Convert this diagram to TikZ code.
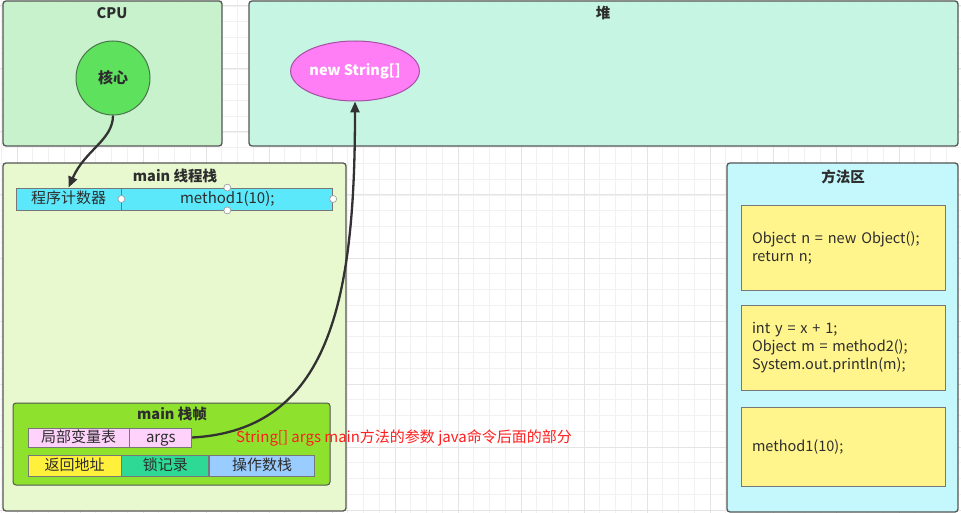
\documentclass[tikz,border=0pt]{standalone}
\usepackage{fontspec}
\setmainfont{Noto Sans CJK SC}
\usepackage{xcolor}
\usetikzlibrary{positioning,shapes.geometric,arrows.meta}
\definecolor{edgegray}{RGB}{85,85,85}
\definecolor{titlegray}{RGB}{45,45,45}
\definecolor{linkgray}{RGB}{50,50,50}
\definecolor{gridminor}{RGB}{241,241,241}
\definecolor{gridmajor}{RGB}{228,228,228}
\definecolor{cpugreen}{RGB}{199,242,203}
\definecolor{heapgreen}{RGB}{198,245,228}
\definecolor{coregreen}{RGB}{94,226,94}
\definecolor{coreedge}{RGB}{75,115,75}
\definecolor{strpink}{RGB}{255,125,245}
\definecolor{stredge}{RGB}{165,80,165}
\definecolor{stackgreen}{RGB}{232,248,207}
\definecolor{pccyan}{RGB}{90,232,250}
\definecolor{framegreen}{RGB}{142,226,46}
\definecolor{localpink}{RGB}{255,210,252}
\definecolor{retyellow}{RGB}{255,240,60}
\definecolor{lockteal}{RGB}{46,217,150}
\definecolor{opsblue}{RGB}{153,204,255}
\definecolor{methodcyan}{RGB}{197,248,252}
\definecolor{codeyellow}{RGB}{255,245,140}
\definecolor{annored}{RGB}{255,30,30}
\tikzset{
  region/.style={draw=edgegray, line width=1.3pt, rounded corners=3pt, inner sep=0pt},
  title/.style={font=\bfseries\fontsize{14.5}{16}\selectfont, text=titlegray},
  cell/.style={draw=edgegray!80, line width=0.8pt, inner sep=0pt, text height=0.98em, text depth=0.06em, font=\fontsize{15}{17}\selectfont, text=titlegray},
  codebox/.style={draw=edgegray!80, line width=0.8pt, fill=codeyellow, minimum width=204pt, text width=182pt, inner xsep=11pt, align=left, font=\fontsize{14.5}{18}\selectfont, text=titlegray},
  handle/.style={circle, draw=gray!80, fill=white, line width=0.6pt, inner sep=0pt, minimum size=7pt},
  link/.style={draw=linkgray, line width=2.3pt, -{Triangle[length=11pt,width=9pt]}},
}
\begin{document}
\begin{tikzpicture}[x=1pt,y=-1pt]
\useasboundingbox (0,0) rectangle (961,513);
\fill[white] (0,0) rectangle (961,513);
\foreach \i in {0,...,61} \draw[gridminor, line width=0.8pt] ({1.25+15.75*\i},0) -- ({1.25+15.75*\i},513);
\foreach \j in {0,...,32} \draw[gridminor, line width=0.8pt] (0,{6+15.75*\j}) -- (961,{6+15.75*\j});
\foreach \i in {0,...,15} \draw[gridmajor, line width=1pt] ({17+63*\i},0) -- ({17+63*\i},513);
\foreach \j in {0,...,8} \draw[gridmajor, line width=1pt] (0,{6+63*\j}) -- (961,{6+63*\j});

\node[region, fill=cpugreen, minimum width=219pt, minimum height=145pt] (cpu) at (112.5,73.5) {};
\node[title] (cputitle) at (112,13) {CPU};
\node[circle, draw=coreedge, fill=coregreen, line width=1pt, minimum size=74pt, font=\bfseries\fontsize{15}{17}\selectfont, text=titlegray] (core) at (113,78) {核心};

\node[region, fill=heapgreen, minimum width=709pt, minimum height=145pt] (heap) at (603.5,73.5) {};
\node[title] (heaptitle) at (603,13) {堆};
\node[ellipse, draw=stredge, fill=strpink, line width=1pt, minimum width=124pt, minimum height=60pt, inner sep=0pt, text=white, font=\bfseries\fontsize{14.5}{16}\selectfont] (str) at (355,71) {new String[]};

\node[region, fill=stackgreen, minimum width=343pt, minimum height=348pt] (stack) at (174.5,337) {};
\node[title] (stacktitle) at (175,176) {main 线程栈};
\node[cell, fill=pccyan, minimum width=105pt, minimum height=22pt] (pcname) at (68.5,199) {程序计数器};
\node[cell, fill=pccyan, minimum width=211pt, minimum height=22pt, right=0pt of pcname] (pcval) {method1(10);};
\node[handle] (h1) at (pcval.west) {};
\node[handle] (h2) at (pcval.north) {};
\node[handle] (h3) at (pcval.south) {};
\node[handle] (h4) at (pcval.east) {};

\node[region, fill=framegreen, line width=1pt, minimum width=317pt, minimum height=82pt] (frame) at (171.5,444) {};
\node[title] (frametitle) at (172,414) {main 栈帧};
\node[cell, fill=localpink, minimum width=101pt, minimum height=19pt] (locals) at (78.5,437.5) {局部变量表};
\node[cell, fill=localpink, minimum width=62pt, minimum height=19pt, right=0pt of locals] (args) {args};
\node[cell, fill=retyellow, minimum width=93pt, minimum height=21pt] (ret) at (74.5,465.5) {返回地址};
\node[cell, fill=lockteal, minimum width=87pt, minimum height=21pt, right=0pt of ret] (lock) {锁记录};
\node[cell, fill=opsblue, minimum width=105pt, minimum height=21pt, right=0pt of lock] (ops) {操作数栈};
\node[anchor=west, inner sep=0pt, text=annored, font=\fontsize{15}{17}\selectfont] (note) at (236,438) {String[] args main方法的参数 java命令后面的部分};

\node[region, fill=methodcyan, minimum width=231pt, minimum height=349pt] (method) at (842.5,337.5) {};
\node[title] (methodtitle) at (843,177) {方法区};
\node[codebox, minimum height=85pt] (code1) at (843,247.5) {Object n = new Object();\\return n;};
\node[codebox, minimum height=85pt] (code2) at (843,347.5) {int y = x + 1;\\Object m = method2();\\System.out.println(m);};
\node[codebox, minimum height=79pt] (code3) at (843,446.5) {method1(10);};

\draw[link] (core.south) .. controls (113,140) and (85,150) .. (pcname.north);
\draw[link] (args.east) .. controls (330,430) and (355,300) .. (str.south);
\end{tikzpicture}
\end{document}
